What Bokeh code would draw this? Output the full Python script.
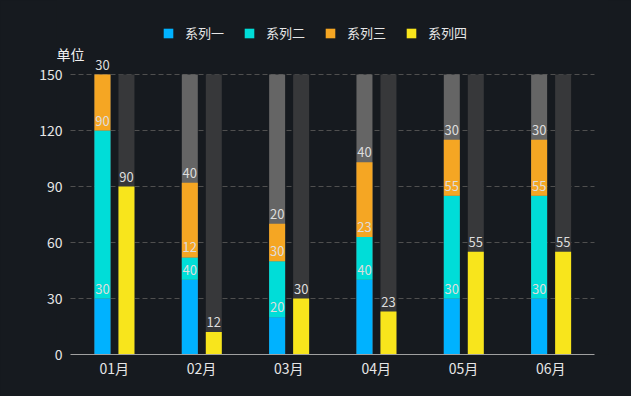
from bokeh.plotting import figure
from bokeh.models import (FactorRange, Range1d, ColumnDataSource, FixedTicker,
                          Legend, LegendItem, Label)
from bokeh.transform import dodge
from bokeh.core.properties import value
from bokeh.embed import file_html
from bokeh.resources import INLINE
import numpy as np

months = ["01月", "02月", "03月", "04月", "05月", "06月"]
series1 = [30, 40, 20, 40, 30, 30]
series2 = [90, 12, 30, 23, 55, 55]
series3 = [30, 40, 20, 40, 30, 30]
series4 = [90, 12, 30, 23, 55, 55]
background = [150, 150, 150, 150, 150, 150]
names = ["系列一", "系列二", "系列三", "系列四"]
colors = ["#00b2ff", "#00ddd8", "#f5a623", "#f8e51c"]
y_ticks = [0, 30, 60, 90, 120, 150]
unit_label = "单位"

FONT = "Noto Sans CJK SC"
BG = "#161a1f"

s1 = np.array(series1)
s2 = np.array(series2)
s3 = np.array(series3)
top1 = s1
top2 = s1 + s2
top3 = s1 + s2 + s3
n = len(months)

src = ColumnDataSource(dict(
    month=months, bg=background,
    b1=np.zeros(n), t1=top1, b2=top1, t2=top2, b3=top2, t3=top3,
    b4=np.zeros(n), t4=np.array(series4),
    l1=[str(v) for v in series1], l2=[str(v) for v in series2],
    l3=[str(v) for v in series3], l4=[str(v) for v in series4],
))

# frame: x 56..608 (categories occupy 70..594), y: 0 at 354px, 150 at 74px, top of frame at 0px
BAND = 524 / 6.0
PAD = 14 / BAND
x_range = FactorRange(*months, range_padding=PAD, range_padding_units="absolute")
y_top = 150 * 354 / 280.0

p = figure(width=631, height=396, x_range=x_range, y_range=Range1d(0, y_top),
           output_backend="svg", toolbar_location=None,
           background_fill_color=None, border_fill_color=BG, outline_line_color=None,
           min_border_left=56, min_border_right=23, min_border_top=0, min_border_bottom=42,
           styles={"background-color": BG})
p.outline_line_color = None

W = 16 / BAND
xa = dodge("month", -11.7 / BAND, range=p.x_range)
xb = dodge("month", 12.3 / BAND, range=p.x_range)

p.vbar(x=xa, top="bg", bottom=0, width=W, source=src, fill_color="#656565", line_color=None)
p.vbar(x=xb, top="bg", bottom=0, width=W, source=src, fill_color="#37383a", line_color=None)

r1 = p.vbar(x=xa, top="t1", bottom="b1", width=W, source=src, fill_color=colors[0], line_color=None)
r2 = p.vbar(x=xa, top="t2", bottom="b2", width=W, source=src, fill_color=colors[1], line_color=None)
r3 = p.vbar(x=xa, top="t3", bottom="b3", width=W, source=src, fill_color=colors[2], line_color=None)
r4 = p.vbar(x=xb, top="t4", bottom="b4", width=W, source=src, fill_color=colors[3], line_color=None)

for t, l, xx in [("t1", "l1", xa), ("t2", "l2", xa), ("t3", "l3", xa), ("t4", "l4", xb)]:
    p.text(x=xx, y=t, text=l, source=src, text_align="center", text_baseline="bottom",
           y_offset=-5, text_color="#dddddd", text_font_size="13px", text_font=value(FONT))

p.xgrid.grid_line_color = None
p.ygrid.grid_line_color = "#4f4f4f"
p.ygrid.grid_line_dash = "5 3"
p.ygrid.ticker = FixedTicker(ticks=y_ticks)
for g in p.ygrid:
    try:
        g.cross_bounds = (0, n)
    except Exception:
        pass

p.yaxis.ticker = FixedTicker(ticks=y_ticks)
p.yaxis.axis_line_color = None
p.yaxis.major_tick_line_color = None
p.yaxis.minor_tick_line_color = None
p.yaxis.major_tick_out = 0
p.yaxis.minor_tick_out = 0
p.yaxis.major_label_text_color = "#e6e6e6"
p.yaxis.major_label_text_font_size = "14px"
p.yaxis.major_label_text_font = FONT
p.yaxis.major_label_standoff = -6

p.xaxis.axis_line_color = "#a0a0a0"
p.xaxis.bounds = (0, n)
p.xaxis.major_tick_line_color = None
p.xaxis.minor_tick_line_color = None
p.xaxis.major_tick_out = 0
p.xaxis.minor_tick_out = 0
p.xaxis.major_label_text_color = "#e6e6e6"
p.xaxis.major_label_text_font_size = "14px"
p.xaxis.major_label_text_font = FONT
p.xaxis.major_label_standoff = 3

legend = Legend(items=[LegendItem(label=nm, renderers=[r]) for nm, r in zip(names, [r1, r2, r3, r4])],
                orientation="horizontal", location=(106, 312),
                glyph_width=12, glyph_height=12, label_standoff=11, spacing=19,
                padding=0, margin=0, border_line_color=None, background_fill_alpha=0,
                label_text_color="#e6e6e6", label_text_font_size="13px", label_text_font=FONT,
                label_height=12)
p.add_layout(legend, "center")

p.add_layout(Label(x=14, y=301, x_units="screen", y_units="screen", text=unit_label,
                   text_align="center", text_baseline="middle", text_color="#f0f0f0",
                   text_font_size="14px", text_font=FONT))

open("out.html", "w").write(file_html(p, INLINE))
